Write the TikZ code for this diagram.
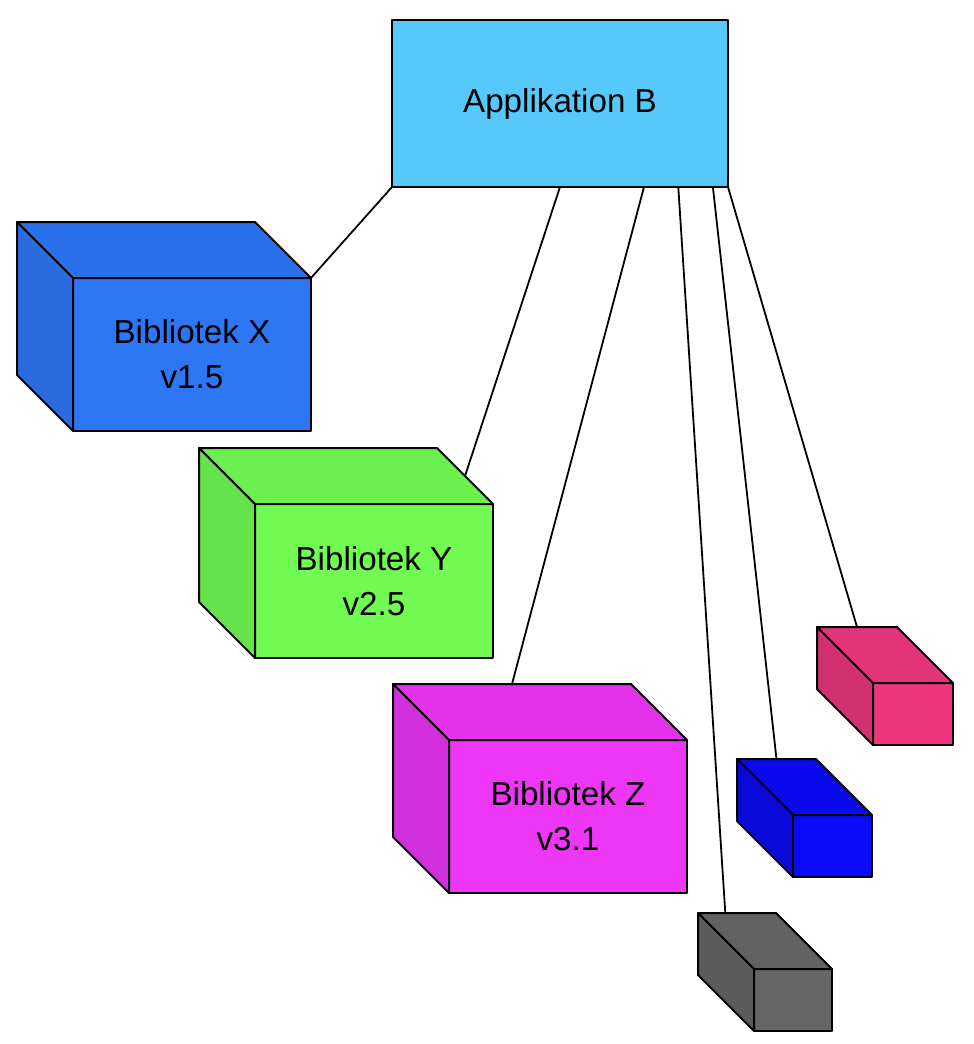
\documentclass[tikz,border=0pt]{standalone}
\usepackage{fontspec}
\setmainfont{Liberation Sans}
\usetikzlibrary{calc}

\definecolor{appcol}{HTML}{56C8FA}
\definecolor{xfront}{HTML}{2D76F6}
\definecolor{xtop}{HTML}{2B71EB}
\definecolor{xside}{HTML}{2A6CDF}
\definecolor{yfront}{HTML}{70FA52}
\definecolor{ytop}{HTML}{6CF04F}
\definecolor{yside}{HTML}{66E24B}
\definecolor{zfront}{HTML}{EE36F6}
\definecolor{ztop}{HTML}{E334EC}
\definecolor{zside}{HTML}{D130DC}
\definecolor{pfront}{HTML}{EE3580}
\definecolor{ptop}{HTML}{E1347A}
\definecolor{pside}{HTML}{D12F71}
\definecolor{bfront}{HTML}{0B0BFA}
\definecolor{btop}{HTML}{0A0AEC}
\definecolor{bside}{HTML}{0909DA}
\definecolor{gfront}{HTML}{666666}
\definecolor{gtop}{HTML}{626262}
\definecolor{gside}{HTML}{5B5B5B}

\tikzset{
  face/.style={draw=black, line width=1pt, line join=round},
  front/.style={face, inner sep=0pt, outer sep=0pt, anchor=north west,
    align=center, font=\fontsize{16.6}{22.5}\selectfont},
  link/.style={draw=black, line width=0.9pt},
}

% name, front corner, width, height, colour prefix, text
\newcommand{\libcube}[6]{%
  \node[front, fill=#5front, minimum width={0.5pt*#3}, minimum height={0.5pt*#4}] (#1) at #2 {#6};
  \coordinate (#1-bl) at ($(#1.north west)+(-56,-56)$);
  \coordinate (#1-br) at ($(#1.north east)+(-56,-56)$);
  \draw[face, fill=#5top] (#1.north west) -- (#1-bl) -- (#1-br) -- (#1.north east) -- cycle;
  \draw[face, fill=#5side] (#1.north west) -- (#1-bl) -- ++(0,#4) -- (#1.south west) -- cycle;
}

\begin{document}
\begin{tikzpicture}[x=0.5pt, y=-0.5pt]
   \useasboundingbox (0,0) rectangle (974,1044);

   \node[front, fill=appcol, minimum width=168pt, minimum height=83.5pt] (app) at (392,20) {Applikation B};

   \libcube{x}{(73,278)}{238}{153}{x}{Bibliotek X\\v1.5}
   \libcube{y}{(255,504)}{238}{154}{y}{Bibliotek Y\\v2.5}
   \libcube{z}{(449,740)}{238}{153}{z}{Bibliotek Z\\v3.1}
   \libcube{p}{(873,683)}{80}{62}{p}{}
   \libcube{b}{(793,815)}{79}{62}{b}{}
   \libcube{g}{(754,969)}{78}{62}{g}{}

   % connectors
   \draw[link] (app.south west) -- (x.north east);
   \draw[link] (app.south) -- ($(y.north east)!0.5!(y-br)$);
   \draw[link] ($(app.south west)!0.75!(app.south east)$) -- ($(z-bl)!0.5!(z-br)$);
   \draw[link] ($(app.south west)!0.852!(app.south east)$) -- ($(g-bl)!0.35!(g-br)$);
   \draw[link] ($(app.south west)!0.955!(app.south east)$) -- ($(b-bl)!0.5!(b-br)$);
   \draw[link] (app.south east) -- ($(p-bl)!0.5!(p-br)$);
\end{tikzpicture}
\end{document}
